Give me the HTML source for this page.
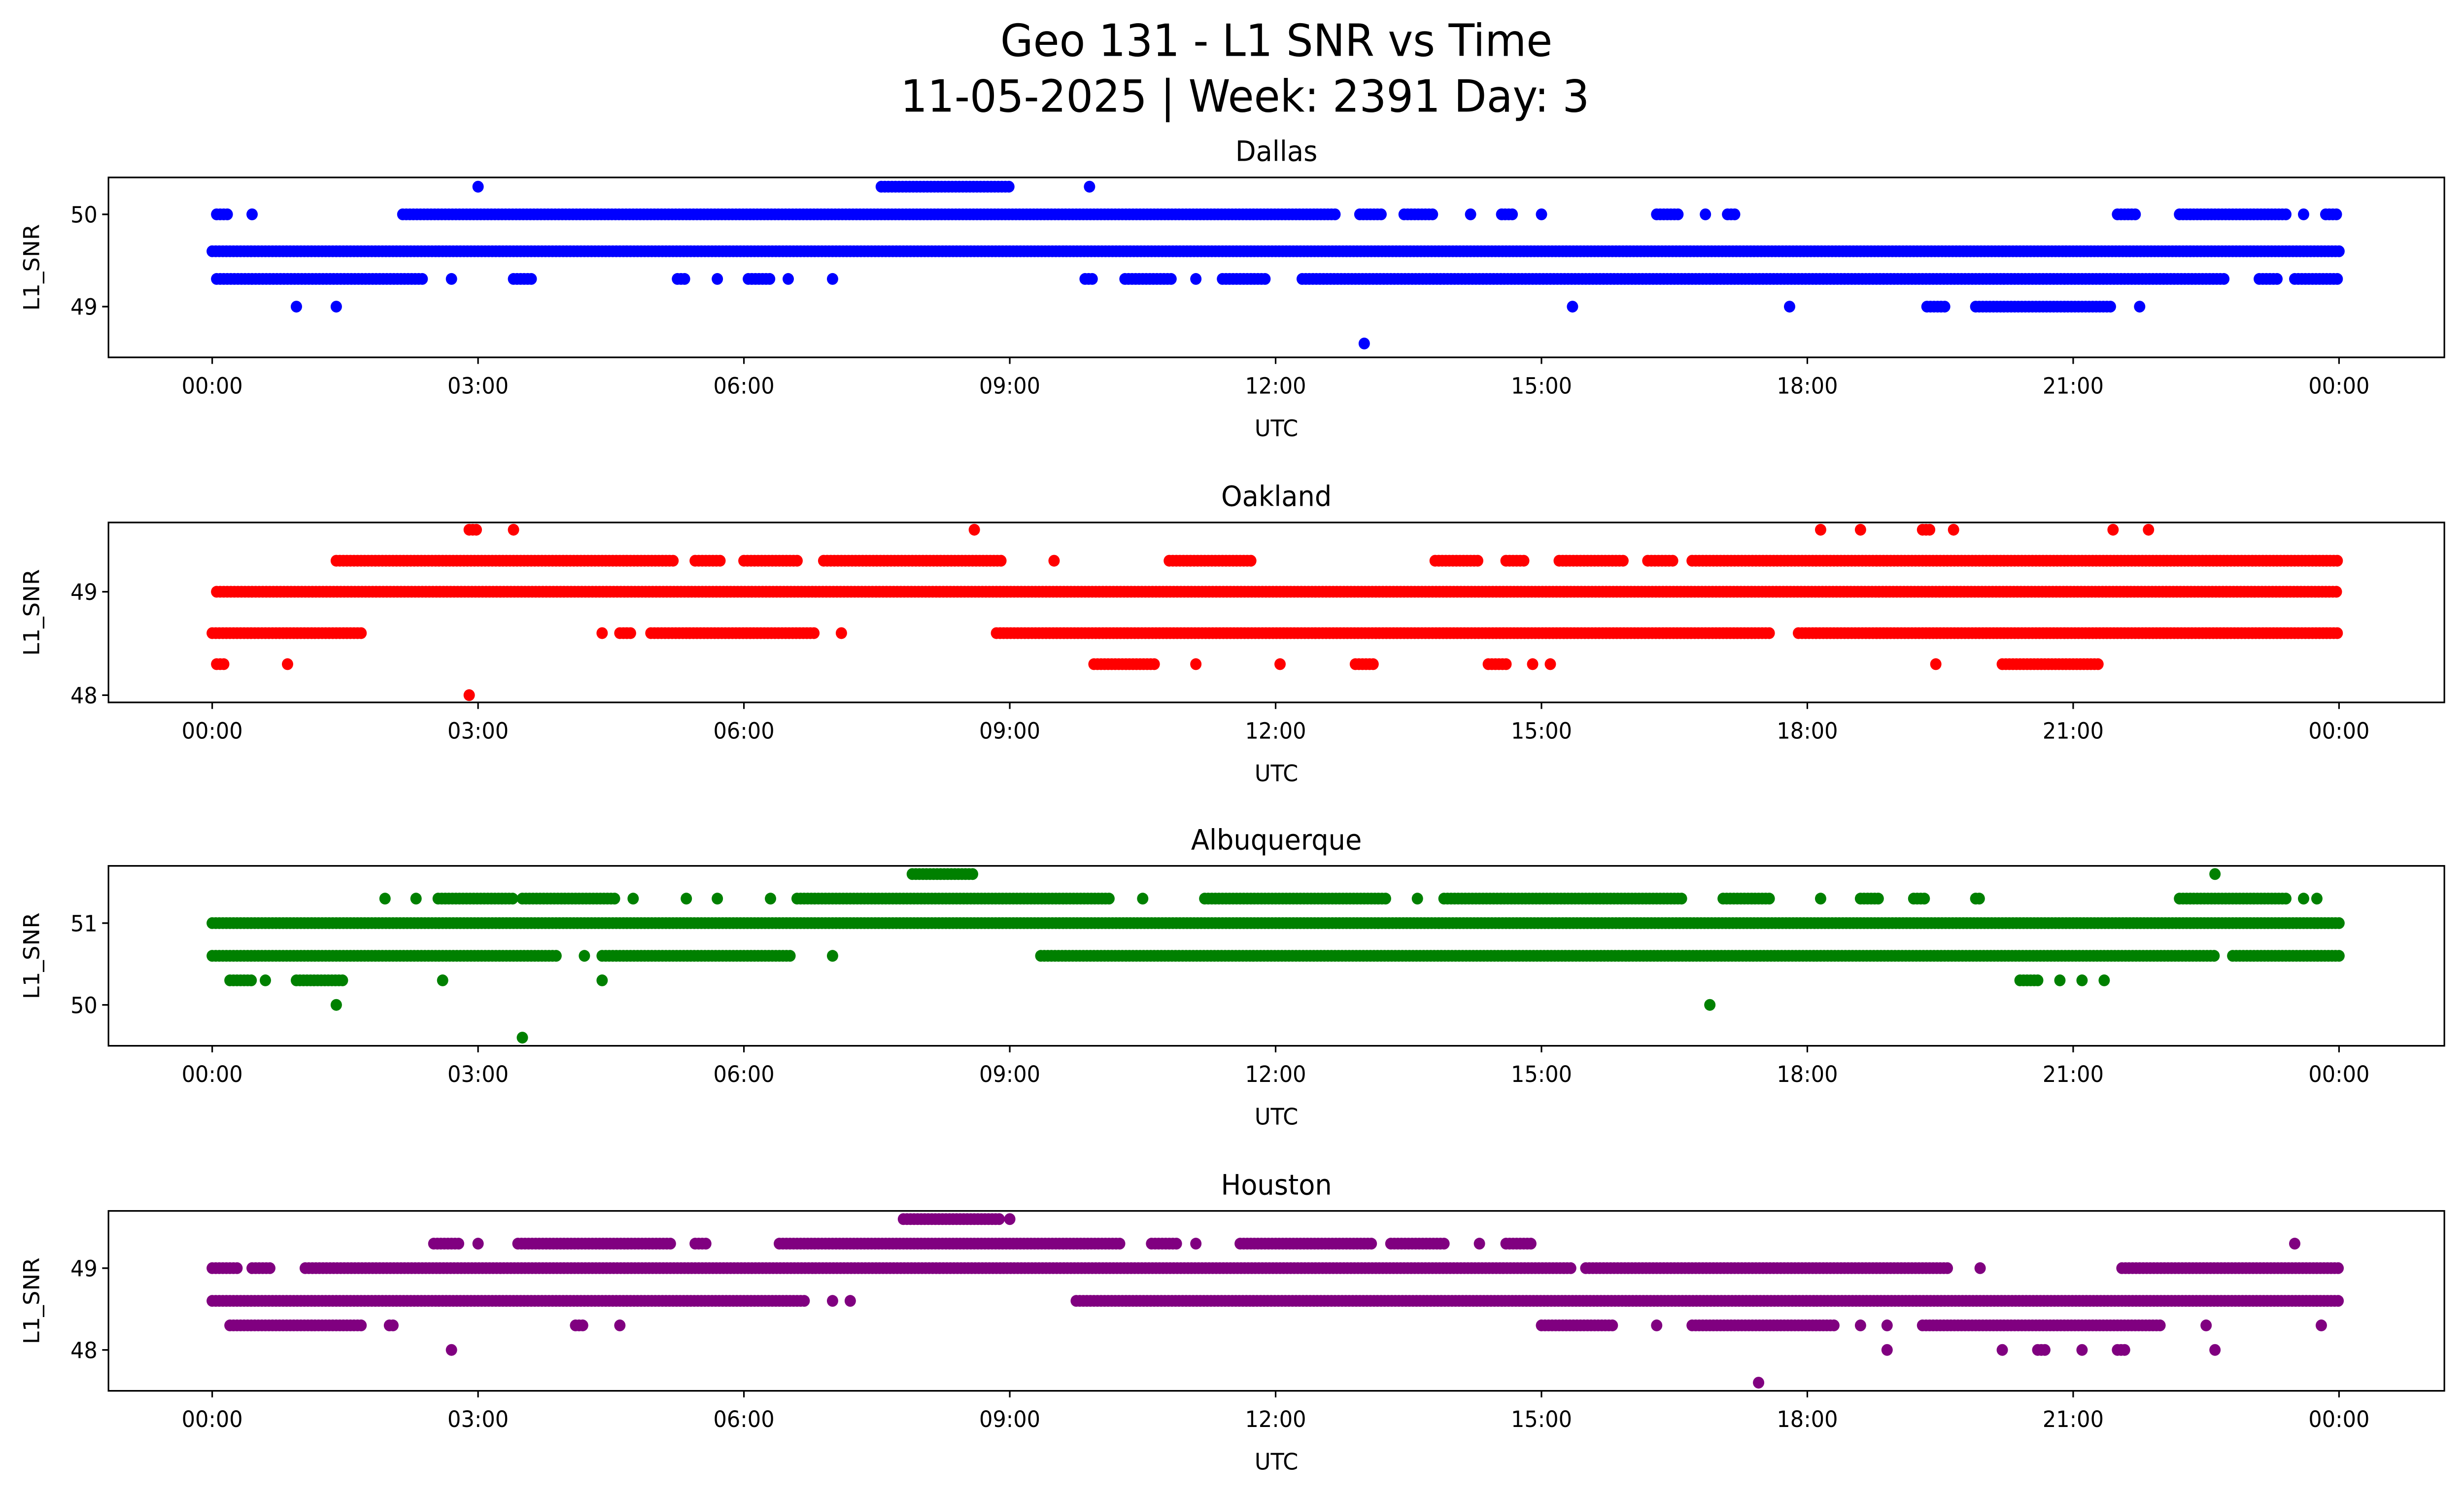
<!DOCTYPE html>
<html><head><meta charset="utf-8">
<style>
html,body{margin:0;padding:0;background:#fff;overflow:hidden;width:100%;height:100%;}
svg{display:block;position:fixed;left:0;top:0;width:100vw;height:100vh;}
text{font-family:"DejaVu Sans","Liberation Sans",sans-serif;fill:#000;}
</style></head>
<body>
<svg id="fig" xmlns="http://www.w3.org/2000/svg" viewBox="0 0 1567.5 909.9" preserveAspectRatio="none">
<rect width="1567.5" height="909.9" fill="#fff"/>
<text x="812" y="34" font-size="27" text-anchor="middle">Geo 131 - L1 SNR vs Time</text>
<text x="792" y="68" font-size="27" text-anchor="middle">11-05-2025 | Week: 2391 Day: 3</text>
</svg>
<script>
// Tick labels
const xTickHours = [0,3,6,9,12,15,18,21,24];
const xTickLabels = ["00:00","03:00","06:00","09:00","12:00","15:00","18:00","21:00","00:00"];
const stations = ["Dallas","Oakland","Albuquerque","Houston"];
const colors = ["#0000ff","#ff0000","#008000","#800080"];
const yTicksDallas = [49,50];
const yTicksOakland = [48,49];
const yTicksAlbuquerque = [50,51];
const yTicksHouston = [48,49];
const yRangeDallas = [48.45,50.4];
const yRangeOakland = [47.93,49.67];
const yRangeAlbuquerque = [49.5,51.7];
const yRangeHouston = [47.5,49.7];
// Observation runs: [snr, startHour, endHour] (dense observations within run)
const runsDallas = [
 [49.6,0,24],
 [50.0,0.05,0.2],[50.0,0.45,0.45],[50.0,2.15,12.7],[50.0,12.95,13.2],[50.0,13.45,13.8],[50.0,14.2,14.2],[50.0,14.55,14.7],[50.0,15.0,15.0],
 [50.0,16.3,16.55],[50.0,16.85,16.85],[50.0,17.1,17.2],[50.0,21.5,21.7],[50.0,22.2,23.4],[50.0,23.6,23.6],[50.0,23.85,24],
 [50.3,3.0,3.0],[50.3,7.55,9.0],[50.3,9.9,9.9],
 [49.3,0.05,2.4],[49.3,2.7,2.7],[49.3,3.4,3.6],[49.3,5.25,5.35],[49.3,5.7,5.7],[49.3,6.05,6.3],[49.3,6.5,6.5],[49.3,7.0,7.0],
 [49.3,9.85,9.95],[49.3,10.3,10.85],[49.3,11.1,11.1],[49.3,11.4,11.9],[49.3,12.3,22.7],[49.3,23.1,23.3],[49.3,23.5,24],
 [49.0,0.95,0.95],[49.0,1.4,1.4],[49.0,15.35,15.35],[49.0,17.8,17.8],[49.0,19.35,19.55],[49.0,19.9,21.45],[49.0,21.75,21.75],
 [48.6,13.0,13.0]
];
const runsOakland = [
 [49.0,0.05,24],
 [49.3,1.4,5.2],[49.3,5.45,5.75],[49.3,6.0,6.6],[49.3,6.9,8.9],[49.3,9.5,9.5],[49.3,10.8,11.75],[49.3,13.8,14.3],[49.3,14.6,14.8],
 [49.3,15.2,15.95],[49.3,16.2,16.5],[49.3,16.7,24],
 [49.6,2.9,3.0],[49.6,3.4,3.4],[49.6,8.6,8.6],[49.6,18.15,18.15],[49.6,18.6,18.6],[49.6,19.3,19.4],[49.6,19.65,19.65],[49.6,21.45,21.45],[49.6,21.85,21.85],
 [48.6,0.0,1.7],[48.6,4.4,4.4],[48.6,4.6,4.75],[48.6,4.95,6.8],[48.6,7.1,7.1],[48.6,8.85,17.6],[48.6,17.9,24],
 [48.3,0.05,0.15],[48.3,0.85,0.85],[48.3,9.95,10.65],[48.3,11.1,11.1],[48.3,12.05,12.05],[48.3,12.9,13.1],[48.3,14.4,14.6],
 [48.3,14.9,14.9],[48.3,15.1,15.1],[48.3,19.45,19.45],[48.3,20.2,21.3],
 [48.0,2.9,2.9]
];
const runsAlbuquerque = [
 [51.0,0,24],
 [50.6,0,3.9],[50.6,4.2,4.2],[50.6,4.4,6.55],[50.6,7.0,7.0],[50.6,9.35,22.6],[50.6,22.8,24],
 [51.3,1.95,1.95],[51.3,2.3,2.3],[51.3,2.55,3.4],[51.3,3.5,4.55],[51.3,4.75,4.75],[51.3,5.35,5.35],[51.3,5.7,5.7],[51.3,6.3,6.3],
 [51.3,6.6,10.15],[51.3,10.5,10.5],[51.3,11.2,13.25],[51.3,13.6,13.6],[51.3,13.9,16.6],[51.3,17.05,17.6],[51.3,18.15,18.15],
 [51.3,18.6,18.8],[51.3,19.2,19.35],[51.3,19.9,19.95],[51.3,22.2,23.4],[51.3,23.6,23.6],[51.3,23.75,23.75],
 [51.6,7.9,8.6],[51.6,22.6,22.6],
 [50.3,0.2,0.45],[50.3,0.6,0.6],[50.3,0.95,1.5],[50.3,2.6,2.6],[50.3,4.4,4.4],[50.3,20.4,20.6],[50.3,20.85,20.85],[50.3,21.1,21.1],[50.3,21.35,21.35],
 [50.0,1.4,1.4],[50.0,16.9,16.9],
 [49.6,3.5,3.5]
];
const runsHouston = [
 [49.0,0,0.3],[49.0,0.45,0.65],[49.0,1.05,15.35],[49.0,15.5,19.6],[49.0,19.95,19.95],[49.0,21.55,24],
 [48.6,0,6.7],[48.6,7.0,7.0],[48.6,7.2,7.2],[48.6,9.75,24],
 [49.3,2.5,2.8],[49.3,3.0,3.0],[49.3,3.45,5.2],[49.3,5.45,5.6],[49.3,6.4,10.25],[49.3,10.6,10.9],[49.3,11.1,11.1],[49.3,11.6,13.1],
 [49.3,13.3,13.9],[49.3,14.3,14.3],[49.3,14.6,14.9],[49.3,23.5,23.5],
 [49.6,7.8,8.9],[49.6,9.0,9.0],
 [48.3,0.2,1.7],[48.3,2.0,2.05],[48.3,4.1,4.2],[48.3,4.6,4.6],[48.3,15.0,15.8],[48.3,16.3,16.3],[48.3,16.7,18.3],[48.3,18.6,18.6],
 [48.3,18.9,18.9],[48.3,19.3,22.0],[48.3,22.5,22.5],[48.3,23.8,23.8],
 [48.0,2.7,2.7],[48.0,18.9,18.9],[48.0,20.2,20.2],[48.0,20.6,20.7],[48.0,21.1,21.1],[48.0,21.5,21.6],[48.0,22.6,22.6],
 [47.6,17.45,17.45]
];
const allRuns = [runsDallas,runsOakland,runsAlbuquerque,runsHouston];
const allYTicks = [yTicksDallas,yTicksOakland,yTicksAlbuquerque,yTicksHouston];
const allYRanges = [yRangeDallas,yRangeOakland,yRangeAlbuquerque,yRangeHouston];

const NS="http://www.w3.org/2000/svg";
const fig=document.getElementById('fig');
function mk(tag,attrs,parent){const e=document.createElementNS(NS,tag);for(const k in attrs)e.setAttribute(k,attrs[k]);(parent||fig).appendChild(e);return e;}
const X0=69, X1=1555, panelTops=[108,318,527,737], PH=109.5;
const xs=h=>135+h*(1353/24);
stations.forEach((name,i)=>{
  const top=panelTops[i], bot=top+PH, yr=allYRanges[i];
  const ys=v=>bot-(v-yr[0])/(yr[1]-yr[0])*PH;
  const g=mk('g',{});
  
  
  const t=mk('text',{x:812,y:top-10,'font-size':17,'text-anchor':'middle'},g);t.textContent=name;
  
  
  const pts=mk('g',{fill:colors[i]},g);
  
  
  allRuns[i].forEach(r=>{
    const y=ys(r[0]);
    for(let h=r[1]; h<=r[2]+1e-9; h+=0.04){
      const c=mk('circle',{cx:xs(h).toFixed(2),cy:y.toFixed(2),r:3.6},pts);
      
      
    }
  });
  const fr=mk('rect',{x:X0,y:top,width:X1-X0,height:PH,fill:'none',stroke:'#000','stroke-width':1},g);
  
  
  xTickHours.forEach((h,k)=>{
    const x=xs(h);
    mk('line',{x1:x,x2:x,y1:bot,y2:bot+4,stroke:'#000','stroke-width':1},g);
    const tl=mk('text',{x:x,y:bot+22,'font-size':13.5,'text-anchor':'middle'},g);tl.textContent=xTickLabels[k];
    
    
  });
  allYTicks[i].forEach(v=>{
    const y=ys(v);
    mk('line',{x1:X0-4,x2:X0,y1:y,y2:y,stroke:'#000','stroke-width':1},g);
    const tl=mk('text',{x:X0-7,y:y+5,'font-size':13.5,'text-anchor':'end'},g);tl.textContent=v;
    
    
  });
  const xl=mk('text',{x:812,y:bot+48,'font-size':14,'text-anchor':'middle'},g);xl.textContent='UTC';
  
  
  const yl=mk('text',{x:0,y:0,'font-size':14,'text-anchor':'middle',transform:`translate(25,${top+PH/2}) rotate(-90)`},g);yl.textContent='L1_SNR';
  
  
});
</script>
</body></html>
